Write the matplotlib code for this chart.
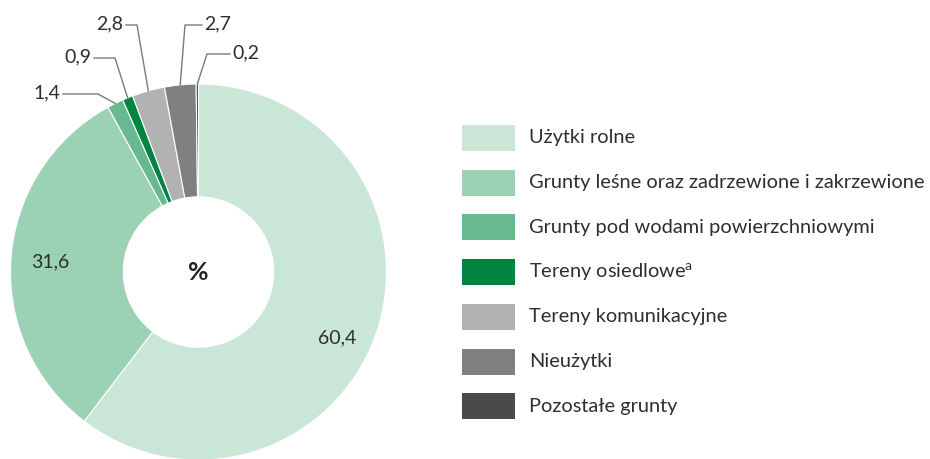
import numpy as np
import matplotlib.pyplot as plt
from matplotlib.patches import Rectangle

plt.rcParams['font.family'] = ['Lato', 'DejaVu Sans']

W, H = 930, 459

categories = ['Użytki rolne', 'Grunty leśne oraz zadrzewione i zakrzewione',
              'Grunty pod wodami powierzchniowymi', 'Tereny osiedlowe$^{\\mathregular{a}}$',
              'Tereny komunikacyjne', 'Nieużytki', 'Pozostałe grunty']
values = [60.4, 31.6, 1.4, 0.9, 2.8, 2.7, 0.2]
labels = ['60,4', '31,6', '1,4', '0,9', '2,8', '2,7', '0,2']
colors = ['#c9e6d7', '#9bd1b5', '#68b890', '#00843f', '#b2b2b2', '#808080', '#4a4a4a']

fig = plt.figure(figsize=(9.3, 4.59), dpi=100)
ax = fig.add_axes([0, 0, 1, 1])

cx, cy, R = 198.5, H - 272, 188
wedges, _ = ax.pie(values, colors=colors, startangle=90, counterclock=False,
                   center=(cx, cy), radius=R, frame=True,
                   wedgeprops=dict(width=R * 0.6, edgecolor='white', linewidth=0.8))

ax.set_xlim(0, W)
ax.set_ylim(0, H)
ax.set_aspect('equal')
ax.axis('off')

txt_col = '#2e2e2e'

# big slices: label inside the ring
ax.text(337, H - 338, labels[0], ha='center', va='center', fontsize=14, color=txt_col)
ax.text(50, H - 262, labels[1], ha='center', va='center', fontsize=14, color=txt_col)
ax.text(cx, cy, '%', ha='center', va='center', fontsize=18, fontweight='bold', color='#222222')

# small slices: leader lines (elbow point, text position, side)
callouts = {
    2: ((98, 94), (47, 93), 'right'),
    3: ((115, 58), (78, 57), 'right'),
    4: ((137, 25), (110, 24), 'right'),
    5: ((185, 25), (218, 24), 'left'),
    6: ((207, 54), (246, 53), 'left'),
}
for i, (elbow, tpos, side) in callouts.items():
    w = wedges[i]
    ang = np.deg2rad((w.theta1 + w.theta2) / 2)
    px, py = cx + R * np.cos(ang), cy + R * np.sin(ang)
    ex, ey = elbow[0], H - elbow[1]
    tx = tpos[0]
    endx = tx + 16 if side == 'right' else tx - 16
    ax.plot([px, ex, endx], [py, ey, ey], color='#7a7a7a', lw=1)
    ax.text(tx, H - tpos[1], labels[i], ha='center', va='center', fontsize=14, color=txt_col)

# legend
for k, (name, col) in enumerate(zip(categories, colors)):
    yc = H - (138 + k * 44.7)
    ax.add_patch(Rectangle((462, yc - 13), 53, 26, facecolor=col, edgecolor='none'))
    ax.text(529, yc, name, ha='left', va='center', fontsize=14.4, color=txt_col)

fig.savefig('out.png', dpi=100)
